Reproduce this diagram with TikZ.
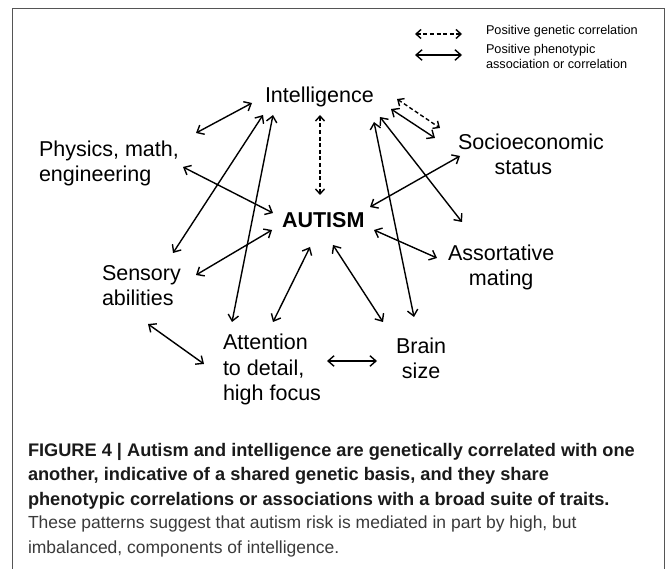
\documentclass[tikz,border=0pt]{standalone}
\usepackage{fontspec}
\setmainfont{Liberation Sans}
\usetikzlibrary{arrows.meta}
\definecolor{framegray}{HTML}{555555}
\definecolor{capgray}{HTML}{3A3A3A}
\definecolor{capbold}{HTML}{1A1A1A}
\begin{document}
\begin{tikzpicture}[x=1pt,y=-1pt,
  lbl/.style={inner sep=0pt, outer sep=0pt, anchor=base west, font=\fontsize{21.5}{25.8}\selectfont},
  leglbl/.style={inner sep=0pt, outer sep=0pt, anchor=base west, align=left, font=\fontsize{12.7}{15.2}\selectfont},
  conn/.style={line width=1.4pt, {Straight Barb[length=6pt,width=10.5pt]}-{Straight Barb[length=6pt,width=10.5pt]}},
  gencorr/.style={line width=1.4pt, dash pattern=on 4pt off 2.6pt, {Straight Barb[length=5pt,width=9pt]}-{Straight Barb[length=5pt,width=9pt]}},
  capb/.style={inner sep=0pt, outer sep=0pt, anchor=base west, align=left, text=capbold, font=\fontsize{18.2}{24.3}\selectfont\bfseries},
  capr/.style={inner sep=0pt, outer sep=0pt, anchor=base west, align=left, text=capgray, font=\fontsize{17.5}{24.3}\selectfont},
]
\useasboundingbox (0,0) rectangle (667,569);
% frame
\draw[framegray, line width=1.3pt] (12.5,575) -- (12.5,8.5) -- (664.5,8.5) -- (664.5,575);

% legend (anchor base = last line baseline)
\node[leglbl] (leg1) at (486,35) {Positive genetic correlation};
\node[leglbl] (leg2) at (486,69) {Positive phenotypic\\association or correlation};
\draw[gencorr] ([shift={(-71,-1)}]leg1.base west) -- ([shift={(-24,-1)}]leg1.base west);
\draw[conn] ([shift={(-71,-14)}]leg2.base west) -- ([shift={(-24,-14)}]leg2.base west);

% labels (multi-line: anchor at last line baseline)
\node[lbl] (intel) at (265,103) {Intelligence};
\node[lbl, align=left] (phys) at (39,182) {Physics, math,\\engineering};
\node[lbl, align=center] (socio) at (458,175) {Socioeconomic\\status\hspace*{15pt}};
\node[lbl, font=\fontsize{21.5}{25.8}\selectfont\bfseries] (autism) at (282,228) {AUTISM};
\node[lbl, align=center] (assort) at (448,286) {Assortative\\mating};
\node[lbl, align=left] (sens) at (102,306) {Sensory\\abilities};
\node[lbl, align=left] (attn) at (223,401) {Attention\\to detail,\\high focus};
\node[lbl, align=center] (brain) at (396,379) {Brain\\size};

% connectors
\draw[conn] ([shift={(157,-49)}]phys.base west) -- ([shift={(-13,0)}]intel.base west);
\draw[conn] ([shift={(144,-15)}]phys.base west) -- ([shift={(-9,-15)}]autism.base west);
\draw[gencorr] ([shift={(55,12)}]intel.base west) -- ([shift={(38,-33)}]autism.base west);
\draw[conn] ([shift={(-2,12)}]intel.base west) -- ([shift={(71,-53)}]sens.base west);
\draw[conn] ([shift={(8,12)}]intel.base west) -- ([shift={(9,-79)}]attn.base west);
\draw[gencorr] ([shift={(132,-4)}]intel.base west) -- ([shift={(-18,-47)}]socio.base west);
\draw[conn] ([shift={(126,6)}]intel.base west) -- ([shift={(-23,-37)}]socio.base west);
\draw[conn] ([shift={(109,19)}]intel.base west) -- ([shift={(18,-62)}]brain.base west);
\draw[conn] ([shift={(115,14)}]intel.base west) -- ([shift={(14,-64)}]assort.base west);
\draw[conn] ([shift={(2,-19)}]socio.base west) -- ([shift={(88,-21)}]autism.base west);
\draw[conn] ([shift={(94,-31)}]sens.base west) -- ([shift={(-10,2)}]autism.base west);
\draw[conn] ([shift={(28,19)}]autism.base west) -- ([shift={(50,-79)}]attn.base west);
\draw[conn] ([shift={(51,17)}]autism.base west) -- ([shift={(-13,-57)}]brain.base west);
\draw[conn] ([shift={(92,2)}]autism.base west) -- ([shift={(-11,-28)}]assort.base west);
\draw[conn] ([shift={(46,18)}]sens.base west) -- ([shift={(-19,-37)}]attn.base west);
\draw[conn] ([shift={(104,-40)}]attn.base west) -- ([shift={(-19,-18)}]brain.base west);

% caption
\node[capb] (capA) at (28,505) {FIGURE 4 | Autism and intelligence are genetically correlated with one\\another, indicative of a shared genetic basis, and they share\\phenotypic correlations or associations with a broad suite of traits.};
\node[capr] (capB) at (28,553) {These patterns suggest that autism risk is mediated in part by high, but\\imbalanced, components of intelligence.};
\end{tikzpicture}
\end{document}
